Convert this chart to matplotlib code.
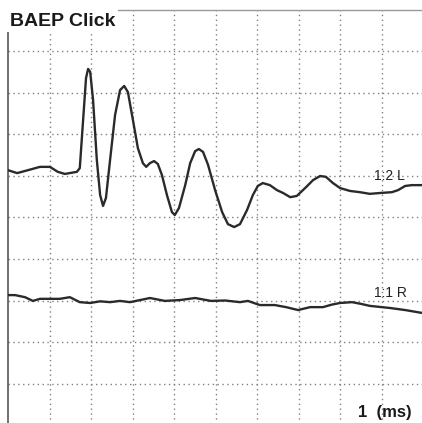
import matplotlib
matplotlib.use('Agg')
import matplotlib.pyplot as plt
from matplotlib.patches import Rectangle

plt.rcParams['font.family'] = ['Liberation Sans', 'DejaVu Sans']

# time in ms (1 division = 1 ms), amplitude in grid divisions
t_left = [0.00, 0.22, 0.48, 0.77, 1.01, 1.20, 1.37, 1.66, 1.73, 1.81, 1.88, 1.93,
          1.98, 2.05, 2.14, 2.22, 2.29, 2.36, 2.46, 2.58, 2.70, 2.80, 2.89, 3.01,
          3.13, 3.25, 3.33, 3.42, 3.52, 3.61, 3.71, 3.83, 3.95, 4.02, 4.12, 4.27,
          4.39, 4.51, 4.60, 4.70, 4.82, 4.99, 5.16, 5.30, 5.45, 5.59, 5.76, 5.90,
          6.02, 6.14, 6.31, 6.48, 6.63, 6.80, 6.96, 7.16, 7.35, 7.52, 7.66, 7.83,
          8.00, 8.24, 8.48, 8.72, 8.96, 9.25, 9.40, 9.57, 9.73, 9.98]
v_left = [6.14, 6.07, 6.14, 6.22, 6.22, 6.10, 6.05, 6.10, 6.19, 7.35, 8.36, 8.58,
          8.51, 7.83, 6.39, 5.54, 5.28, 5.47, 6.39, 7.47, 8.07, 8.17, 8.02, 7.35,
          6.67, 6.31, 6.22, 6.31, 6.36, 6.29, 6.02, 5.54, 5.13, 5.06, 5.23, 5.78,
          6.31, 6.60, 6.65, 6.58, 6.27, 5.66, 5.13, 4.84, 4.77, 4.84, 5.18, 5.54,
          5.76, 5.83, 5.78, 5.66, 5.59, 5.49, 5.52, 5.71, 5.90, 6.00, 5.98, 5.83,
          5.71, 5.64, 5.61, 5.57, 5.59, 5.61, 5.66, 5.76, 5.78, 5.78]

t_right = [0.00, 0.17, 0.41, 0.60, 0.77, 1.01, 1.25, 1.49, 1.73, 1.98, 2.22, 2.46,
           2.70, 2.94, 3.18, 3.42, 3.78, 4.14, 4.51, 4.89, 5.23, 5.59, 5.78, 6.07,
           6.43, 6.70, 6.99, 7.28, 7.59, 7.80, 8.00, 8.29, 8.50, 8.72, 9.20, 9.57,
           9.98]
v_right = [3.13, 3.13, 3.08, 2.99, 3.04, 3.04, 3.04, 3.08, 2.96, 2.94, 2.98, 2.96,
           2.99, 2.96, 3.01, 3.06, 2.99, 3.01, 3.06, 2.99, 3.00, 2.96, 2.99, 2.89,
           2.89, 2.84, 2.77, 2.84, 2.84, 2.90, 2.94, 2.96, 2.92, 2.87, 2.82, 2.77,
           2.70]

labels = ['1:2 L', '1:1 R']

fig = plt.figure(figsize=(4.22, 4.23), dpi=100)
ax = fig.add_axes([8/422, -2/423, 415/422, 415/423])
ax.set_xlim(0, 10)
ax.set_ylim(0, 10)

for k in range(1, 10):
    ax.axvline(k, color='#808080', lw=1, ls=(0, (1, 2.5)), zorder=1)
    ax.axhline(k, color='#808080', lw=1, ls=(0, (1, 2.5)), zorder=1)

ax.plot(t_left, v_left, color='#2a2a2a', lw=1.7, zorder=3)
ax.plot(t_right, v_right, color='#2a2a2a', lw=1.7, zorder=3)

ax.text(9.18, 6.0, labels[0], fontsize=10, color='#222222', ha='center', va='center')
ax.text(9.22, 3.18, labels[1], fontsize=10, color='#222222', ha='center', va='center')
ax.text(9.08, 0.3, '1  (ms)', fontsize=12, fontweight='bold', color='#1a1a1a',
        ha='center', va='center')

ax.set_xticks([])
ax.set_yticks([])
ax.spines['right'].set_visible(False)
ax.spines['bottom'].set_visible(False)
ax.spines['left'].set_color('#555555')
ax.spines['left'].set_linewidth(1.2)
ax.spines['top'].set_color('#999999')
ax.spines['top'].set_linewidth(1.0)

# white patch behind the title
fig.patches.append(Rectangle((0, 1 - 32/423), 118/422, 32/423, transform=fig.transFigure,
                             facecolor='white', edgecolor='none', zorder=5))
fig.text(10/422, 1 - 21/423, 'BAEP Click', fontsize=14, fontweight='bold',
         color='#1a1a1a', ha='left', va='center', zorder=6)

fig.savefig('out.png', dpi=100)
